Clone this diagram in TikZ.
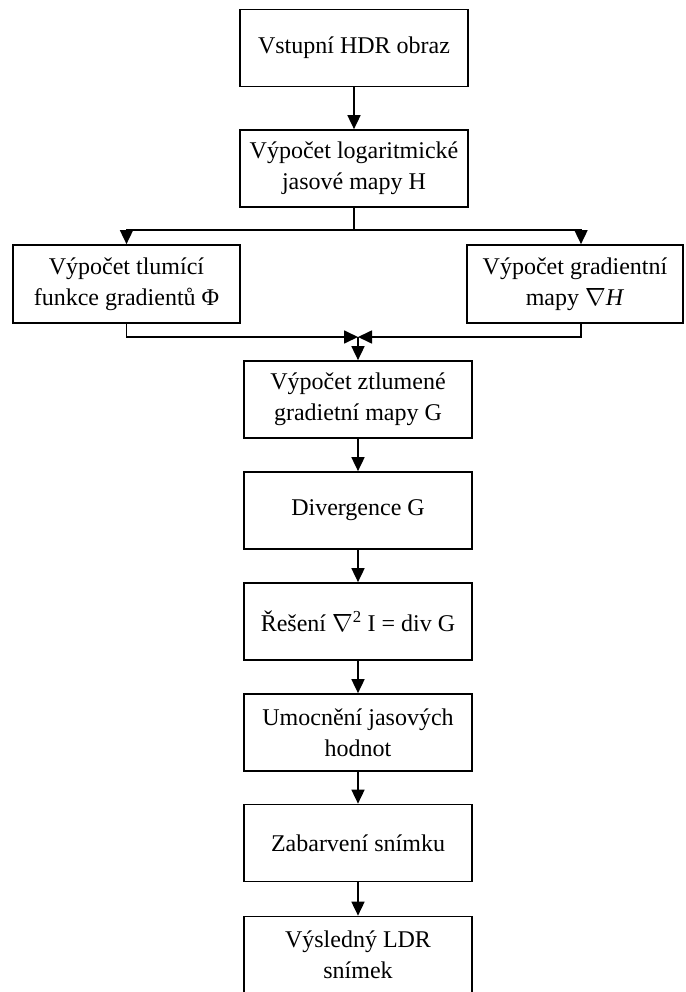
\documentclass[tikz,border=0pt]{standalone}
\usepackage{fontspec}
\setmainfont{Liberation Serif}
\usetikzlibrary{arrows.meta}
\begin{document}
\begin{tikzpicture}[x=1pt,y=-1pt,
  box/.style={draw,line width=1.7pt,rectangle,align=center,inner sep=0pt,
    minimum width=228pt,minimum height=77pt,font=\fontsize{24}{31}\selectfont},
  arr/.style={line width=1.7pt,-{Triangle[length=14pt,width=13pt]}},
  ln/.style={line width=1.7pt}]
\useasboundingbox (0,0) rectangle (685,992);
\node[box] (b1) at (354,48) {Vstupní HDR obraz};
\node[box] (b2) at (354,168.5) {Výpočet logaritmické\\jasové mapy H};
\node[box,minimum width=227pt,minimum height=78pt] (bl) at (126.5,284) {Výpočet tlumící\\funkce gradientů Φ};
\node[box,minimum width=216pt,minimum height=78pt] (br) at (575,284) {Výpočet gradientní\\mapy $\nabla$\textit{H}};
\node[box] (b3) at (358,399.5) {Výpočet ztlumené\\gradietní mapy G};
\node[box] (b4) at (358,510.5) {Divergence G};
\node[box] (b5) at (358,621.5) {Řešení $\nabla$\textsuperscript{2} I = div G};
\node[box] (b6) at (358,732.5) {Umocnění jasových\\hodnot};
\node[box] (b7) at (358,843) {Zabarvení snímku};
\node[box] (b8) at (358,955) {Výsledný LDR\\snímek};
\coordinate (j1) at (354,230);
\coordinate (j2) at (358,337);
\draw[arr] (b1) -- (b2);
\draw[ln] (b2.south) -- (j1);
\draw[arr] (j1) -| (bl.north);
\draw[arr] (j1) -| ([xshift=6pt]br.north);
\draw[arr] (bl.south) |- (j2);
\draw[arr] ([xshift=6pt]br.south) |- (j2);
\draw[arr] (j2) -- (b3.north);
\draw[arr] (b3) -- (b4);
\draw[arr] (b4) -- (b5);
\draw[arr] (b5) -- (b6);
\draw[arr] (b6) -- (b7);
\draw[arr] (b7) -- (b8);
\end{tikzpicture}
\end{document}
